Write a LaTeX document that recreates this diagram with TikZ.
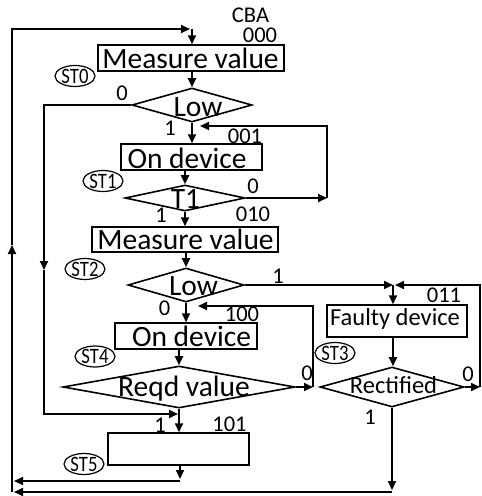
\documentclass[tikz,border=0pt]{standalone}
\usepackage{fontspec}
\setmainfont{Carlito}
\usetikzlibrary{shapes.geometric,arrows.meta}

\tikzset{
  conn/.style={line width=1.9pt},
  arr/.style={conn, -{Triangle[length=9pt,width=8pt]}},
  box/.style={draw, line width=1.5pt, inner sep=0},
  dia/.style={draw, diamond, line width=1.6pt, inner sep=0},
  big/.style={font=\fontsize{29.5}{31}\selectfont, inner sep=0, text height=19pt, text depth=0pt},
  mid/.style={font=\fontsize{24.5}{26}\selectfont, inner sep=0, text height=15.8pt, text depth=0pt},
  small/.style={font=\fontsize{22.5}{24}\selectfont, inner sep=0, text height=14.2pt, text depth=0pt},
  stlab/.style={draw, ellipse, line width=1.2pt, inner sep=0, minimum width=40pt, minimum height=21pt,
    font=\fontsize{22}{24}\selectfont, text height=14pt, text depth=0pt},
}
\newcommand{\stname}[1]{\scalebox{0.85}[1]{#1}}

\begin{document}
\begin{tikzpicture}[x=1pt,y=-1pt]
\useasboundingbox (0,0) rectangle (482,496);

% ---- flow boxes and decisions ----
\node[box, minimum width=186pt, minimum height=26pt] (mv1) at (191,58) {};
\node[dia, minimum width=120pt, minimum height=34pt] (low1) at (192,105) {};
\node[box, minimum width=141pt, minimum height=26pt] (od1) at (191.5,157) {};
\node[dia, minimum width=120pt, minimum height=26pt] (t1) at (185,198) {};
\node[box, minimum width=186pt, minimum height=25pt] (mv2) at (185,239.5) {};
\node[dia, minimum width=116pt, minimum height=34pt] (low2) at (186,285) {};
\node[box, minimum width=142pt, minimum height=26pt] (od2) at (186,336) {};
\node[dia, minimum width=232pt, minimum height=42pt] (reqd) at (179,387) {};
\node[box, minimum width=141pt, minimum height=32pt] (st5box) at (178.5,449) {};
\node[box, minimum width=140pt, minimum height=32pt] (fd) at (397,321) {};
\node[dia, minimum width=144pt, minimum height=40pt] (rect) at (392,387) {};

% ---- texts inside the shapes ----
\node[big] (tmv1) at (190.5,58.5) {Measure value};
\node[big] (tlow1) at (198,107) {Low};
\node[big] (tod1) at (187,158.5) {On device};
\node[big] (tt1) at (185.5,198.5) {T1};
\node[big] (tmv2) at (185.5,240) {Measure value};
\node[big] (tlow2) at (193.5,286) {Low};
\node[big] (tod2) at (191.5,336.5) {On device};
\node[big] (treqd) at (184,386.5) {Reqd value};
\node[mid] (tfd) at (395,317.5) {Faulty device};
\node[mid] (trect) at (393.5,385.5) {Rectified};

% ---- state labels ----
\node[stlab] (st0) at (75,76) {\stname{ST0}};
\node[stlab] (st1) at (103,181) {\stname{ST1}};
\node[stlab] (st2) at (85,269) {\stname{ST2}};
\node[stlab] (st3) at (335,353) {\stname{ST3}};
\node[stlab] (st4) at (95,356.5) {\stname{ST4}};
\node[stlab] (st5) at (84,464) {\stname{ST5}};

% ---- state codes and branch labels ----
\node[small] (cba) at (250.5,15) {CBA};
\node[small] (c000) at (260,35) {000};
\node[small] (c001) at (245,136) {001};
\node[small] (c010) at (253,214.5) {010};
\node[small] (c100) at (242,314) {100};
\node[small] (c011) at (444,295.5) {011};
\node[small] (c101) at (229.5,424) {101};
\node[small] (b1) at (122,93.5) {0};
\node[small] (b2) at (170,128.5) {1};
\node[small] (b3) at (253,186.5) {0};
\node[small] (b4) at (161,215) {1};
\node[small] (b5) at (278,276) {1};
\node[small] (b6) at (164.5,308.5) {0};
\node[small] (b7) at (307,373.5) {0};
\node[small] (b8) at (468,374.5) {0};
\node[small] (b9) at (370,417) {1};
\node[small] (b10) at (160,425) {1};

% ---- junction points ----
\coordinate (lb) at (12,492);
\coordinate (lm) at (12,245);
\coordinate (lt) at (12,29);
\coordinate (tj) at (192,29);
\coordinate (tjend) at (190,29);
\coordinate (l2) at (44,105);
\coordinate (l2m) at (44,270);
\coordinate (l2b) at (44,414);
\coordinate (l2end) at (178,414);
\coordinate (t1r) at (327,198);
\coordinate (t1rt) at (327,126);
\coordinate (t1back) at (200,126);
\coordinate (fj) at (393,285);
\coordinate (fjr) at (395,285);
\coordinate (rr) at (480,387);
\coordinate (rrt) at (480,285);
\coordinate (qr) at (313,387);
\coordinate (qrt) at (313,306);
\coordinate (qback) at (198,306);
\coordinate (s5end) at (180,479);
\coordinate (s5j) at (180,481);
\coordinate (s5l) at (14,481);
\coordinate (rb) at (392,490);
\coordinate (rbj) at (392,492);
\coordinate (rbl) at (14,492);

% ---- connectors ----
\draw[arr] (lb) -- (lm);
\draw[arr] (lm) -- (lt) -- (tjend);
\draw[arr] (tj) -- (mv1.north -| tj);
\draw[arr] (mv1.south -| low1.north) -- (low1.north);
\draw[arr] (low1.west) -- (l2) -- (l2m);
\draw[arr] (l2m) -- (l2b) -- (l2end);
\draw[arr] (low1.south) -- (od1.north -| low1.south);
\draw[arr] (od1.south -| t1.north) -- (t1.north);
\draw[arr] (t1.east) -- (t1r);
\draw[arr] (t1r) -- (t1rt) -- (t1back);
\draw[arr] (t1.south) -- (mv2.north -| t1.south);
\draw[arr] (mv2.south -| low2.north) -- (low2.north);
\draw[arr] (low2.east) -- (fj);
\draw[arr] (fj) -- (fd.north -| fj);
\draw[arr] (fd.south -| fj) -- (rect.north -| fj);
\draw[arr] (rect.east) -- (rr);
\draw[arr] (rr) -- (rrt) -- (fjr);
\draw[arr] (rect.south) -- (rb);
\draw[arr] (rbj) -- (rbl);
\draw[arr] (low2.south) -- (od2.north -| low2.south);
\draw[arr] (od2.south -| reqd.north) -- (reqd.north);
\draw[arr] (reqd.east) -- (qr);
\draw[arr] (qr) -- (qrt) -- (qback);
\draw[arr] (reqd.south) -- (st5box.north -| reqd.south);
\draw[arr] (st5box.south -| s5end) -- (s5end);
\draw[arr] (s5j) -- (s5l);
\end{tikzpicture}
\end{document}
